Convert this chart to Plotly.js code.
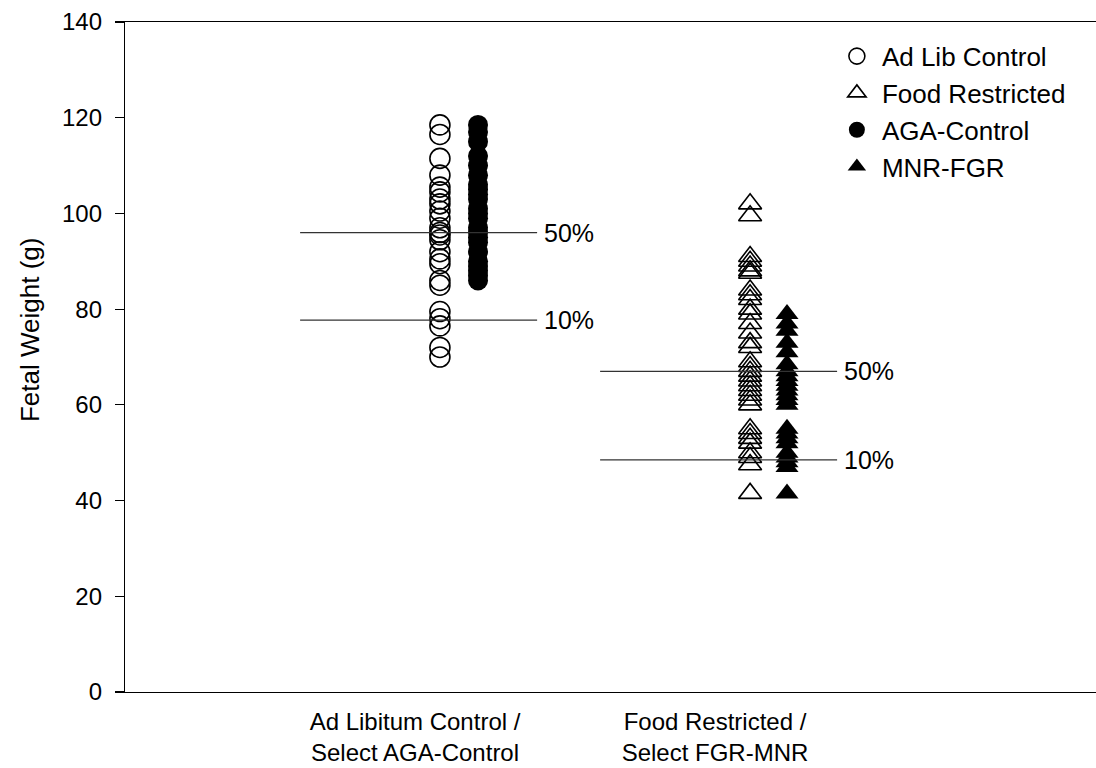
<!DOCTYPE html>
<html>
<head>
<meta charset="utf-8">
<script src="https://cdn.plot.ly/plotly-3.0.1.min.js"></script>
<style>html,body{margin:0;padding:0;background:#fff;}#chart{width:1096px;height:768px;}</style>
</head>
<body>
<div id="chart"></div>
<script>
// ---- data ----
const categories = ["Ad Libitum Control /<br>Select AGA-Control", "Food Restricted /<br>Select FGR-MNR"];
const adLibControl = [118.5, 116.5, 111.5, 108, 105.5, 104.5, 103, 102, 100.5, 99, 97, 96, 95.5, 94.5, 92, 90.5, 89.5, 86, 85, 79.5, 78, 76.5, 72, 70];
const agaControl = [118.5, 117, 115, 112, 110, 108, 106, 105, 104, 103, 101, 100, 99, 97, 96, 95, 94, 92, 90, 89, 88, 87, 86];
const foodRestricted = [102, 99.5, 91, 90, 89, 88, 87.5, 84, 83, 82, 80, 79, 77, 75, 73, 72, 69, 68, 67, 66, 65, 64, 63, 62, 61, 60, 55, 54, 53, 52, 50, 49, 47.5, 41.5];
const mnrFgr = [79, 77, 75.5, 73, 71, 68.5, 67, 66, 65, 64, 63, 62, 61, 60, 55, 54, 53, 52, 50, 49, 48, 47, 41.5];
const pct50 = [96, 67];
const pct10 = [77.7, 48.5];
const pctLabels = ["50%", "10%"];
const yTicks = [0, 20, 40, 60, 80, 100, 120, 140];
const yTitle = "Fetal Weight (g)";

// ---- positions (styling) ----
const catX = [1, 2];
const offOpen = 0.083, offFilled = 0.21, offTri = 0.117, offTriF = 0.24;
const lineL = -0.383, lineR = 0.407;

const FONT = "Arial, 'Liberation Sans', sans-serif";

function rep(v, n) { return Array(n).fill(v); }

const traces = [
  {x: rep(catX[0] + offOpen, adLibControl.length), y: adLibControl, name: "Ad Lib Control", type: "scatter", mode: "markers",
   marker: {symbol: "circle-open", size: 20, color: "#000", line: {width: 1.6, color: "#000"}}},
  {x: rep(catX[1] + offTri, foodRestricted.length), y: foodRestricted, name: "Food Restricted", type: "scatter", mode: "markers",
   marker: {symbol: "triangle-up-open", size: 20, color: "#000", line: {width: 1.6, color: "#000"}}},
  {x: rep(catX[0] + offFilled, agaControl.length), y: agaControl, name: "AGA-Control", type: "scatter", mode: "markers",
   marker: {symbol: "circle", size: 20, color: "#000"}},
  {x: rep(catX[1] + offTriF, mnrFgr.length), y: mnrFgr, name: "MNR-FGR", type: "scatter", mode: "markers",
   marker: {symbol: "triangle-up", size: 20, color: "#000"}}
];

const shapes = [];
const annotations = [];
[pct50, pct10].forEach((arr, k) => {
  arr.forEach((v, i) => {
    shapes.push({type: "line", xref: "x", yref: "y", x0: catX[i] + lineL, x1: catX[i] + lineR, y0: v, y1: v,
                 line: {color: "#333", width: 1.2}});
    annotations.push({xref: "x", yref: "y", x: catX[i] + lineR + 0.015, y: v, text: pctLabels[k], showarrow: false,
                      xanchor: "left", yanchor: "middle", font: {family: FONT, size: 25, color: "#000"}});
  });
});
annotations.push({xref: "paper", yref: "paper", x: -0.098, y: 0.54, text: yTitle, textangle: -90, showarrow: false,
                  xanchor: "center", yanchor: "middle", font: {family: FONT, size: 26, color: "#000"}});

const layout = {
  width: 1096, height: 768,
  margin: {l: 125, r: 0, t: 22, b: 76},
  paper_bgcolor: "#fff", plot_bgcolor: "#fff",
  font: {family: FONT, size: 24, color: "#000"},
  showlegend: true,
  legend: {x: 0.728, y: 0.984, xanchor: "left", yanchor: "top", font: {family: FONT, size: 26},
           itemwidth: 40, bgcolor: "rgba(0,0,0,0)"},
  xaxis: {range: [0.0333, 3.27], tickvals: catX, ticktext: categories, ticks: "", showgrid: false, zeroline: false,
          showline: true, linecolor: "#000", linewidth: 1.2, mirror: true, tickfont: {family: FONT, size: 24},
          ticklabelstandoff: 8},
  yaxis: {range: [0, 140], tickvals: yTicks, ticks: "outside", ticklen: 9, tickcolor: "#000", tickwidth: 1.2,
          showgrid: false, zeroline: false, showline: true, linecolor: "#000", linewidth: 1.2,
          tickfont: {family: FONT, size: 24}, ticklabelstandoff: 8},
  shapes: shapes,
  annotations: annotations
};

Plotly.newPlot("chart", traces, layout, {displayModeBar: false, staticPlot: true});
</script>
</body>
</html>
